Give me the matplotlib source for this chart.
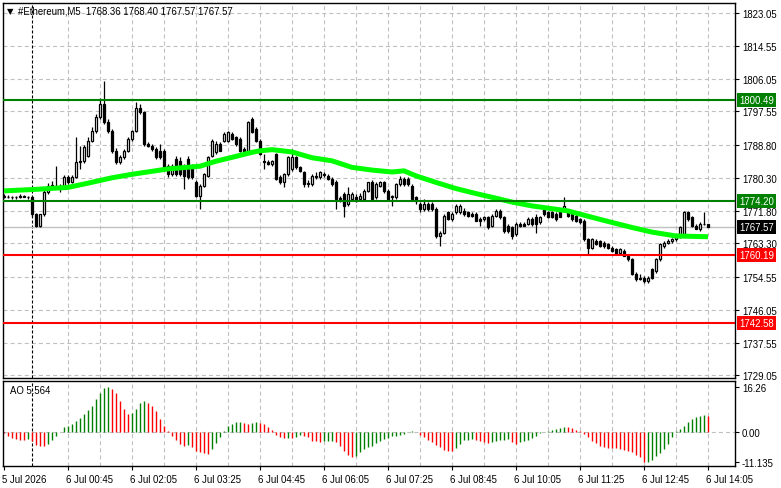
import matplotlib
matplotlib.use("Agg")
import matplotlib.pyplot as plt
import matplotlib.transforms as mtransforms
import numpy as np

W, H = 781, 489

# M5 candles, 23:25 -> 14:05
opens = [
    1775.6, 1775.4, 1775.3, 1775.2, 1775.4, 1775.6, 1775.3, 1775.2, 1770.9, 1767.8,
    1770.8, 1776.5, 1778.2, 1778.2, 1778.0, 1777.8, 1780.4, 1779.3, 1780.6, 1784.3,
    1784.6, 1786.0, 1789.9, 1792.5, 1796.0, 1799.4, 1794.7, 1792.5, 1787.3, 1784.3,
    1785.6, 1787.3, 1790.3, 1792.5, 1798.5, 1797.3, 1789.0, 1788.6, 1787.7, 1787.2,
    1787.3, 1783.4, 1781.2, 1785.1, 1784.7, 1783.4, 1785.1, 1783.0, 1779.1, 1775.6,
    1778.2, 1780.8, 1786.0, 1786.9, 1789.0, 1789.9, 1789.9, 1791.6, 1790.8, 1790.3,
    1787.7, 1787.3, 1795.5, 1792.9, 1789.9, 1784.7, 1784.3, 1783.8, 1786.4, 1780.4,
    1779.3, 1781.2, 1782.5, 1785.6, 1783.0, 1781.7, 1778.6, 1778.6, 1780.8, 1780.4,
    1781.2, 1780.8, 1779.9, 1779.1, 1774.7, 1776.1, 1773.5, 1774.7, 1775.2, 1774.7,
    1774.7, 1776.9, 1779.1, 1775.2, 1778.2, 1779.1, 1776.9, 1775.2, 1775.2, 1778.6,
    1779.9, 1779.9, 1778.2, 1775.2, 1773.5, 1772.1, 1773.5, 1773.5, 1772.1, 1765.2,
    1766.1, 1771.3, 1769.6, 1771.3, 1771.3, 1771.7, 1771.3, 1770.9, 1770.9, 1769.6,
    1769.6, 1770.0, 1767.8, 1770.4, 1771.7, 1770.0, 1767.8, 1767.4, 1765.7, 1768.3,
    1768.3, 1768.3, 1769.5, 1770.0, 1768.7, 1772.6, 1771.3, 1771.3, 1770.9, 1771.7,
    1771.7, 1771.7, 1770.9, 1770.4, 1769.5, 1769.1, 1764.4, 1762.2, 1763.9, 1763.9,
    1763.5, 1763.1, 1762.2, 1761.8, 1760.9, 1761.3, 1760.0, 1759.2, 1755.3, 1754.4,
    1754.4, 1753.5, 1756.6, 1756.1, 1759.2, 1762.6, 1763.5, 1763.9, 1764.4, 1765.2,
    1765.7, 1771.3, 1770.0, 1767.8, 1767.0, 1768.3, 1768.36,
]
highs = [
    1776.0, 1775.8, 1775.6, 1775.7, 1776.2, 1775.9, 1775.7, 1775.5, 1771.2, 1771.0,
    1777.0, 1779.0, 1779.5, 1783.4, 1778.6, 1781.0, 1781.0, 1780.9, 1790.8, 1788.6,
    1788.8, 1790.8, 1793.4, 1796.8, 1801.0, 1805.5, 1795.5, 1793.0, 1788.0, 1786.2,
    1787.8, 1790.8, 1792.8, 1800.0, 1799.4, 1797.6, 1789.5, 1789.0, 1788.2, 1789.0,
    1787.8, 1783.8, 1783.8, 1786.0, 1785.6, 1784.0, 1786.0, 1783.8, 1779.6, 1778.6,
    1781.6, 1786.0, 1790.3, 1789.9, 1789.5, 1792.1, 1792.5, 1792.1, 1791.2, 1790.8,
    1788.2, 1795.1, 1796.0, 1793.4, 1790.3, 1786.4, 1785.0, 1785.0, 1786.8, 1781.0,
    1781.6, 1786.0, 1787.7, 1786.0, 1783.4, 1782.0, 1779.6, 1781.2, 1781.7, 1782.0,
    1781.7, 1781.2, 1780.4, 1779.6, 1775.6, 1776.5, 1777.8, 1776.5, 1776.0, 1776.3,
    1777.3, 1779.3, 1779.8, 1779.3, 1779.5, 1779.5, 1777.3, 1775.8, 1779.0, 1780.8,
    1780.4, 1780.4, 1778.6, 1775.6, 1773.9, 1774.7, 1774.0, 1774.0, 1772.6, 1766.5,
    1770.9, 1771.7, 1771.3, 1773.5, 1773.5, 1772.5, 1771.8, 1771.3, 1771.3, 1770.0,
    1770.4, 1770.4, 1770.9, 1772.1, 1772.1, 1770.4, 1768.3, 1767.8, 1768.7, 1768.7,
    1768.7, 1770.0, 1770.0, 1770.9, 1770.5, 1773.0, 1771.7, 1771.7, 1771.3, 1772.0,
    1775.2, 1772.1, 1771.3, 1770.9, 1769.9, 1769.5, 1764.8, 1764.8, 1764.3, 1764.2,
    1763.9, 1763.5, 1762.6, 1762.2, 1762.2, 1761.8, 1760.4, 1759.6, 1755.8, 1755.3,
    1754.8, 1754.8, 1757.0, 1759.6, 1763.5, 1763.9, 1764.4, 1764.8, 1765.6, 1767.8,
    1771.7, 1771.7, 1770.4, 1768.3, 1768.7, 1771.3, 1768.40,
]
lows = [
    1775.0, 1775.0, 1774.9, 1774.9, 1775.1, 1775.2, 1774.9, 1770.0, 1767.4, 1767.4,
    1770.4, 1776.0, 1777.5, 1777.6, 1776.5, 1777.5, 1778.8, 1779.0, 1780.2, 1782.5,
    1784.2, 1785.6, 1789.5, 1792.0, 1795.6, 1794.3, 1792.0, 1786.8, 1783.8, 1783.9,
    1785.2, 1787.0, 1789.9, 1792.1, 1796.8, 1788.6, 1788.2, 1787.3, 1785.2, 1785.3,
    1782.0, 1780.4, 1780.8, 1780.8, 1780.8, 1777.3, 1780.0, 1780.0, 1775.2, 1772.2,
    1777.8, 1780.4, 1785.6, 1786.4, 1787.2, 1789.5, 1789.5, 1790.0, 1788.6, 1787.0,
    1786.8, 1787.0, 1792.0, 1789.5, 1786.2, 1782.5, 1783.6, 1783.4, 1779.6, 1778.8,
    1778.0, 1780.8, 1782.0, 1782.6, 1781.7, 1778.0, 1778.0, 1778.2, 1780.0, 1780.0,
    1780.6, 1779.6, 1778.2, 1772.2, 1774.0, 1770.0, 1773.0, 1774.3, 1774.0, 1774.3,
    1774.3, 1776.5, 1774.3, 1774.8, 1777.8, 1776.4, 1774.3, 1773.0, 1774.8, 1778.2,
    1778.2, 1778.2, 1774.3, 1773.4, 1771.3, 1771.7, 1771.7, 1771.7, 1764.8, 1762.6,
    1765.7, 1769.3, 1769.2, 1770.8, 1770.9, 1770.5, 1770.0, 1770.0, 1769.0, 1767.8,
    1769.2, 1767.0, 1767.4, 1770.0, 1769.6, 1766.1, 1766.1, 1764.4, 1765.2, 1767.4,
    1767.8, 1768.0, 1767.8, 1766.0, 1768.3, 1770.5, 1769.8, 1769.8, 1769.2, 1770.0,
    1771.3, 1770.0, 1769.2, 1768.7, 1768.3, 1764.0, 1760.5, 1761.8, 1762.9, 1762.4,
    1762.2, 1761.8, 1761.0, 1760.5, 1760.5, 1760.0, 1758.7, 1755.0, 1753.6, 1753.8,
    1753.1, 1753.1, 1754.0, 1755.7, 1758.8, 1762.2, 1763.1, 1763.5, 1764.0, 1764.8,
    1765.3, 1769.2, 1767.4, 1766.9, 1766.5, 1768.0, 1767.57,
]
closes = [
    1775.4, 1775.3, 1775.2, 1775.4, 1775.6, 1775.3, 1775.2, 1770.9, 1767.8, 1770.8,
    1776.5, 1778.2, 1778.4, 1778.0, 1777.8, 1780.4, 1779.3, 1780.6, 1784.3, 1784.6,
    1788.2, 1789.9, 1792.5, 1796.0, 1799.4, 1794.7, 1792.5, 1787.3, 1784.3, 1785.6,
    1787.3, 1790.3, 1792.5, 1798.5, 1797.3, 1789.0, 1788.6, 1787.7, 1785.6, 1785.6,
    1782.5, 1781.2, 1783.4, 1781.2, 1781.2, 1780.8, 1780.4, 1780.4, 1775.6, 1778.2,
    1781.2, 1785.6, 1789.9, 1789.0, 1787.3, 1791.6, 1792.1, 1790.3, 1789.0, 1787.3,
    1787.3, 1794.7, 1792.1, 1789.9, 1786.5, 1784.3, 1783.8, 1784.7, 1780.0, 1779.3,
    1781.2, 1785.6, 1785.6, 1783.0, 1782.0, 1778.6, 1778.9, 1780.8, 1780.4, 1781.7,
    1781.0, 1779.9, 1778.6, 1774.7, 1775.0, 1773.0, 1776.1, 1776.1, 1774.3, 1775.6,
    1776.9, 1779.1, 1774.7, 1778.6, 1779.1, 1776.9, 1774.7, 1775.6, 1778.6, 1779.9,
    1778.6, 1778.6, 1774.7, 1774.3, 1772.1, 1773.5, 1772.1, 1772.1, 1765.2, 1766.1,
    1770.4, 1769.6, 1770.9, 1773.0, 1773.0, 1770.9, 1770.4, 1770.4, 1769.1, 1769.2,
    1770.0, 1767.4, 1770.4, 1771.7, 1770.0, 1766.5, 1766.5, 1765.2, 1768.3, 1767.8,
    1767.9, 1769.5, 1768.3, 1768.3, 1770.0, 1770.9, 1770.0, 1770.0, 1769.6, 1770.0,
    1773.0, 1770.4, 1769.6, 1769.1, 1768.7, 1764.4, 1762.0, 1764.4, 1763.1, 1762.6,
    1762.6, 1762.2, 1761.3, 1760.5, 1761.8, 1760.0, 1759.2, 1755.3, 1754.0, 1754.0,
    1753.5, 1754.4, 1754.4, 1759.2, 1763.0, 1763.5, 1763.9, 1764.4, 1765.2, 1767.4,
    1771.3, 1769.6, 1767.8, 1767.0, 1768.3, 1768.4, 1767.57,
]

# moving average (bar index, price)
ma_bars = [0, 8, 16, 21, 24, 27, 32, 41, 49, 53, 57, 62, 64, 67, 72, 77, 82, 87,
           92, 97, 100, 103, 108, 113, 118, 123, 127, 132, 141, 149, 157, 162, 168, 176]
ma_values = [1776.9, 1777.3, 1777.8, 1778.9, 1779.6, 1780.3, 1781.2, 1782.6, 1783.3,
             1784.6, 1785.6, 1786.9, 1787.3, 1787.6, 1787.0, 1785.5, 1784.7, 1783.0,
             1782.3, 1781.8, 1782.1, 1780.8, 1779.1, 1777.5, 1776.2, 1775.0, 1774.0,
             1773.0, 1771.7, 1769.5, 1767.4, 1766.2, 1765.2, 1765.0]

# Awesome Oscillator histogram
ao_values = [
    -0.66, -1.49, -2.33, -2.69, -3.05, -3.10, -2.69, -3.30, -4.72, -5.08,
    -5.32, -4.48, -3.05, -1.49, -0.10, 1.49, 2.09, 2.69, 3.88, 5.08,
    6.27, 7.71, 9.26, 11.65, 14.04, 15.90, 16.26, 15.30, 14.04, 11.05,
    8.07, 6.27, 6.87, 8.07, 10.46, 11.05, 10.46, 9.26, 7.47, 4.48,
    2.09, 0.10, -1.49, -3.05, -4.48, -5.08, -4.84, -5.67, -6.87, -7.47,
    -7.59, -8.06, -6.27, -4.24, -1.85, 0.20, 2.09, 2.93, 3.53, 3.65,
    3.29, 2.93, 3.29, 3.65, 3.29, 2.93, 1.49, 0.54, -1.25, -2.09,
    -2.45, -2.33, -2.45, -1.85, -1.25, -1.49, -2.09, -3.28, -3.52, -3.88,
    -3.52, -3.40, -3.28, -3.88, -5.08, -6.87, -8.30, -9.02, -8.66, -7.47,
    -6.27, -5.43, -5.08, -4.24, -3.28, -2.69, -2.33, -1.73, -1.49, -1.25,
    -0.89, -0.20, 0.05, -0.05, -1.13, -2.09, -3.05, -3.88, -4.72, -5.67,
    -6.63, -6.87, -7.11, -5.91, -4.48, -3.05, -3.00, -2.69, -2.93, -3.28,
    -3.88, -4.24, -3.88, -3.52, -3.05, -2.90, -2.80, -3.88, -4.48, -3.88,
    -3.52, -3.05, -2.33, -1.49, -0.66, -0.20, 0.10, 0.40, 0.90, 1.30,
    1.60, 1.50, 1.20, 0.60, 0.10, -0.90, -2.10, -3.30, -4.10, -5.30,
    -5.70, -5.90, -6.00, -6.05, -6.30, -6.50, -6.90, -7.50, -8.40, -9.30,
    -11.135, -10.95, -10.10, -8.90, -7.70, -6.30, -4.50, -2.10, 0.10, 0.90,
    2.10, 3.30, 4.50, 5.10, 5.70, 5.95, 5.564,
]

price_ticks = [1823.05, 1814.55, 1806.05, 1797.55, 1788.80, 1780.30,
               1771.80, 1763.30, 1754.55, 1746.05, 1737.55, 1729.05]
green_levels = [1800.49, 1774.20]
red_levels = [1760.19, 1742.58]
last_price = 1767.57
ao_ticks = [16.26, 0.00, -11.135]
ao_tick_labels = ["16.26", "0.00", "-11.135"]
time_labels = ["5 Jul 2026", "6 Jul 00:45", "6 Jul 02:05", "6 Jul 03:25",
               "6 Jul 04:45", "6 Jul 06:05", "6 Jul 07:25", "6 Jul 08:45",
               "6 Jul 10:05", "6 Jul 11:25", "6 Jul 12:45", "6 Jul 14:05"]
separator_bar = 7  # 6 Jul 00:00
title = "#Ethereum,M5  1768.36 1768.40 1767.57 1767.57"

assert len(opens) == len(highs) == len(lows) == len(closes) == len(ao_values)

plt.rcParams["font.family"] = ["Liberation Sans", "DejaVu Sans"]
plt.rcParams["lines.scale_dashes"] = False
FS = 6.9
GRID = "#c0c0c0"
DASH = (0, (2.9, 2.2))

fig = plt.figure(figsize=(W / 100, H / 100), dpi=100)
fig.patch.set_facecolor("white")


def px_axes(left, top, right, bottom):
    return fig.add_axes([left / W, 1 - bottom / H, (right - left) / W, (bottom - top) / H])


ax = px_axes(3, 4, 735, 379)
ao = px_axes(3, 382, 735, 467)

n = len(closes)
idx = np.arange(n)
o, h, l, c = (np.array(v) for v in (opens, highs, lows, closes))
xmin, xmax = -0.25, -0.25 + 732 / 4

for a in (ax, ao):
    a.set_xlim(xmin, xmax)
    for s in a.spines.values():
        s.set_color("black")
        s.set_linewidth(1)
    for g in range(16, n, 8):
        a.axvline(g, color=GRID, lw=0.8, ls=DASH, zorder=0)
    a.axvline(separator_bar, color="black", lw=0.8, ls=(0, (2.2, 1.4)), zorder=1)

# main chart
ax.set_ylim(1728.35, 1825.65)
for p in price_ticks:
    ax.axhline(p, color=GRID, lw=0.8, ls=DASH, zorder=0)
ax.axhline(last_price, color=GRID, lw=1, zorder=1)

up = c >= o
ax.vlines(idx, l, h, color="black", lw=0.9, zorder=2)
ax.bar(idx[up], c[up] - o[up], bottom=o[up], width=0.55, color="white",
       edgecolor="black", lw=0.9, zorder=3)
ax.bar(idx[~up], o[~up] - c[~up], bottom=c[~up], width=0.55, color="black",
       edgecolor="black", lw=0.9, zorder=3)

ax.plot(ma_bars, ma_values, color="#00ff00", lw=3.6, solid_capstyle="butt", zorder=4)

for p in green_levels:
    ax.axhline(p, color="#008000", lw=1.5, zorder=5)
for p in red_levels:
    ax.axhline(p, color="#ff0000", lw=1.5, zorder=5)

ax.set_xticks([])
ax.yaxis.tick_right()
ax.set_yticks(price_ticks)
ax.set_yticklabels([f"{p:.2f}" for p in price_ticks])
ax.tick_params(axis="y", length=3, width=0.8, pad=2, labelsize=FS, colors="black")

trans = mtransforms.blended_transform_factory(ax.transAxes, ax.transData)
boxes = [(p, "#008000") for p in green_levels] + [(p, "#ff0000") for p in red_levels]
boxes.append((last_price, "black"))
for p, col in boxes:
    ax.text(1.0 + 4 / 732, p, f"{p:.2f}", transform=trans, ha="left", va="center",
            fontsize=FS, color="white", zorder=10,
            bbox=dict(boxstyle="square,pad=0.22", fc=col, ec="none"))

fig.text(7 / W, 1 - 11.5 / H, "\u25bc", fontsize=6, family="DejaVu Sans",
         ha="left", va="center")
fig.text(18 / W, 1 - 11.5 / H, title, fontsize=FS, ha="left", va="center")

# AO panel
ao.set_ylim(-12.44, 18.3)
ao.axhline(0, color=GRID, lw=0.8, ls=DASH, zorder=0)
ao_arr = np.array(ao_values)
rising = np.r_[False, ao_arr[1:] > ao_arr[:-1]]
colors = np.where(rising, "#008000", "#ff0000")
ao.vlines(idx, 0, ao_arr, colors=colors, lw=1.0, zorder=2)

ao.yaxis.tick_right()
ao.set_yticks(ao_ticks)
ao.set_yticklabels(ao_tick_labels)
ao.tick_params(axis="y", length=3, width=0.8, pad=2, labelsize=FS, colors="black")
ao.set_xticks(idx[::16])
ao.set_xticklabels(time_labels, ha="left")
ao.tick_params(axis="x", length=3, width=0.8, pad=3, labelsize=FS, colors="black")
for lbl in ao.get_xticklabels():
    lbl.set_transform(lbl.get_transform() + mtransforms.ScaledTranslation(-2 / 100, 0, fig.dpi_scale_trans))

ao.text(7 / 732, 1 - 9 / 85, "AO 5.564", transform=ao.transAxes, ha="left",
        va="center", fontsize=FS, zorder=10)

fig.savefig("out.png", dpi=100)
